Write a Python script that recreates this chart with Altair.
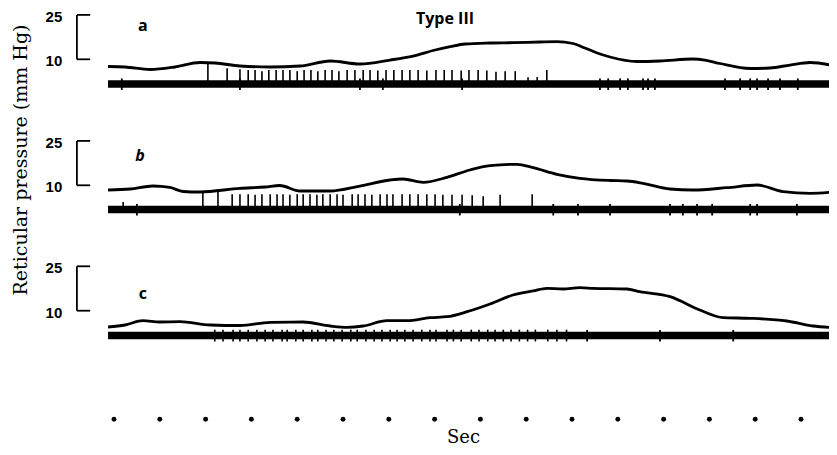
import altair as alt
import pandas as pd

# ---------------- data: time in seconds, pressure in mm Hg ----------------
# panel a : reticular pressure trace
A_T = [-0.13, 0.24, 0.79, 1.33, 1.88, 2.21, 2.75, 3.41, 4.06, 4.72, 5.37, 6.03, 6.53, 7.01,
       7.34, 7.66, 8.21, 8.71, 9.30, 9.67, 10.02, 10.28, 10.55, 10.83, 11.42, 11.92, 12.64,
       12.90, 13.23, 13.89, 14.32, 14.76, 15.20, 15.79]
A_P = [7.57, 7.40, 6.55, 7.40, 8.92, 8.75, 7.74, 7.40, 7.74, 9.43, 8.41, 9.76, 11.11, 13.14,
       14.26, 15.17, 15.51, 15.61, 15.84, 15.95, 15.34, 13.82, 12.13, 10.78, 9.26, 9.43, 10.10,
       9.76, 8.58, 6.89, 7.06, 8.07, 8.92, 7.57]
A_SPIKE_T = [2.05, 2.47, 2.75, 2.93, 3.08, 3.23, 3.38, 3.54, 3.69, 3.84, 4.00, 4.15, 4.30, 4.45,
             4.61, 4.76, 4.91, 5.09, 5.26, 5.44, 5.59, 5.76, 5.94, 6.11, 6.29, 6.46, 6.64, 6.83,
             7.03, 7.21, 7.38, 7.58, 7.75, 7.95, 8.14, 8.34, 8.54, 8.76, 9.04, 9.24, 9.45]
A_SPIKE_TOP = [8.5, 7.0, 6.6, 6.4, 6.4, 6.0, 6.4, 6.4, 6.4, 6.4, 6.0, 6.4, 6.4, 6.0,
               6.4, 6.4, 6.0, 6.4, 6.4, 6.4, 6.4, 6.2, 6.4, 6.4, 6.4, 6.4, 6.4, 6.2,
               6.4, 6.4, 6.4, 6.2, 6.4, 6.4, 6.2, 5.8, 6.0, 6.0, 3.9, 4.0, 6.4]
A_BLIP_T = [0.17, 2.75, 5.37, 5.87, 7.60, 10.61, 10.79, 11.05, 11.22, 11.55, 11.66, 11.81,
            13.34, 13.67, 13.89, 14.04, 14.28, 14.54, 14.93]

# panel b
B_T = [-0.13, 0.35, 0.85, 1.22, 1.51, 1.88, 2.75, 3.30, 3.62, 4.06, 4.72, 5.37, 6.03, 6.31,
       6.75, 7.27, 7.77, 8.21, 8.80, 9.15, 9.67, 10.17, 10.83, 11.20, 11.55, 12.14, 12.64,
       13.38, 14.04, 14.61, 15.20, 15.79]
B_P = [8.41, 8.75, 9.76, 9.26, 7.91, 7.74, 8.99, 9.43, 9.93, 8.07, 8.07, 9.76, 11.79, 12.13,
       11.01, 12.70, 15.17, 16.62, 17.09, 15.95, 13.72, 12.36, 11.62, 11.45, 10.68, 8.75, 8.41,
       9.19, 10.10, 7.84, 7.30, 7.84]
B_SPIKE_T = [0.20, 1.94, 2.27, 2.58, 2.75, 2.93, 3.08, 3.23, 3.41, 3.56, 3.69, 3.84, 4.00, 4.13,
             4.28, 4.43, 4.56, 4.72, 4.87, 5.00, 5.20, 5.33, 5.48, 5.63, 5.81, 5.96, 6.09, 6.29,
             6.46, 6.64, 6.83, 7.01, 7.18, 7.38, 7.60, 7.82, 8.06, 8.43, 9.13]
B_SPIKE_TOP = [4.4, 7.8, 7.8, 7.0, 7.0, 7.0, 6.8, 7.0, 7.0, 7.0, 7.0, 6.8, 7.0, 7.0,
               7.0, 6.8, 7.0, 7.0, 7.0, 6.8, 7.0, 7.0, 7.0, 6.8, 7.0, 7.0, 7.0, 7.0,
               7.0, 7.0, 7.0, 7.0, 6.8, 6.8, 6.8, 6.6, 6.3, 6.8, 7.0]
B_BLIP_T = [0.50, 7.55, 9.59, 10.13, 10.83, 12.14, 12.42, 12.73, 13.06, 13.89, 14.04, 14.91]

# panel c
C_T = [-0.13, 0.24, 0.63, 1.00, 1.44, 2.10, 2.75, 3.41, 4.13, 4.72, 5.09, 5.44, 5.96, 6.40,
       6.90, 7.27, 7.71, 8.21, 8.71, 9.15, 9.45, 9.80, 10.17, 10.46, 11.20, 11.48, 12.14,
       12.79, 13.30, 13.89, 14.69, 15.26, 15.79]
C_P = [4.49, 5.17, 6.62, 6.18, 6.28, 5.17, 5.00, 6.08, 6.18, 4.83, 4.39, 4.83, 6.62, 6.62,
       7.64, 7.97, 9.66, 12.26, 15.30, 16.66, 17.57, 17.33, 17.77, 17.57, 17.33, 16.42, 14.73,
       10.24, 7.64, 7.43, 6.52, 4.83, 4.26]
C_SPIKE_T = [2.20, 2.38, 2.60, 2.75, 2.93, 3.12, 3.30, 3.47, 3.67, 3.78, 3.97, 4.13, 4.32, 4.45,
             4.63, 4.80, 4.98, 5.17, 5.31, 5.50, 5.68, 5.85, 6.03, 6.18, 6.35, 6.53, 6.72, 6.90,
             7.03, 7.27, 7.41, 7.58, 7.80, 7.97, 8.16, 8.32, 8.50, 8.67, 8.85, 9.03, 9.20, 9.47,
             9.67, 9.88]
C_BLIP_T = [10.33, 11.92, 13.52]

BASELINE = {"a": 1.65, "b": 1.8, "c": 1.6}
TIMER_S = [0, 1, 2, 3, 4, 5, 6, 7, 8, 9, 10, 11, 12, 13, 14, 15]
SCALE_MMHG = [10, 25]

# ---------------- layout ----------------
W, H = 821, 439
K = 2.96                      # pixels per mm Hg
XS = alt.Scale(domain=[-2.3144, 15.611], nice=False, zero=False)
BRACKET_X, SERIF_X, NUM_X = -0.81, -0.52, -1.13
SANS = "Open Sans"
NUMFONT = "Liberation Sans"
SERIF = "DejaVu Serif"


def ydomain(px_of_10):
    top = 10 + px_of_10 / K
    return [top - H / K, top]


def panel(t, p, spike_t, spike_top, spike_bottom, blip_t, base, letter, letter_t, letter_p,
          italic, px10):
    ys = alt.Scale(domain=ydomain(px10), nice=False, zero=False)
    X = lambda f="t": alt.X(f"{f}:Q", scale=XS, axis=None)
    Y = lambda f="p": alt.Y(f"{f}:Q", scale=ys, axis=None)

    trace = alt.Chart(pd.DataFrame({"t": t, "p": p})).mark_line(
        color="black", strokeWidth=2.8, interpolate="monotone", clip=True
    ).encode(x=X(), y=Y())

    band = alt.Chart(pd.DataFrame({"t": [t[0], t[-1]], "p": [base, base]})).mark_line(
        color="black", strokeWidth=7.5, clip=True
    ).encode(x=X(), y=Y())

    sp = pd.DataFrame({"t": spike_t, "top": spike_top,
                       "bot": [spike_bottom] * len(spike_t)})
    spikes = alt.Chart(sp).mark_rule(color="black", strokeWidth=1.6).encode(
        x=X(), y=Y("bot"), y2="top:Q")

    bl = pd.DataFrame({"t": blip_t, "lo": [base - 2.0] * len(blip_t),
                       "hi": [base + 1.9] * len(blip_t)})
    blips = alt.Chart(bl).mark_rule(color="black", strokeWidth=1.8).encode(
        x=X(), y=Y("lo"), y2="hi:Q")

    br = pd.DataFrame({"x": [BRACKET_X], "lo": [SCALE_MMHG[0]], "hi": [SCALE_MMHG[1]]})
    bracket_v = alt.Chart(br).mark_rule(color="black", strokeWidth=1.8).encode(
        x=X("x"), y=Y("lo"), y2="hi:Q")
    sr = pd.DataFrame({"x": [BRACKET_X] * 2, "x2": [SERIF_X] * 2, "p": SCALE_MMHG})
    serifs = alt.Chart(sr).mark_rule(color="black", strokeWidth=1.8).encode(
        x=X("x"), x2="x2:Q", y=Y())

    nums = alt.Chart(pd.DataFrame({"t": [NUM_X] * 2, "p": SCALE_MMHG,
                                   "s": [str(v) for v in SCALE_MMHG]})).mark_text(
        font=NUMFONT, fontWeight="bold", fontSize=15, align="right", baseline="middle", dy=2,
        color="black").encode(x=X(), y=Y(), text="s:N")

    lab = alt.Chart(pd.DataFrame({"t": [letter_t], "p": [letter_p], "s": [letter]})).mark_text(
        font=SANS, fontWeight="bold", fontSize=16, align="center", baseline="middle",
        fontStyle="italic" if italic else "normal", color="black").encode(
        x=X(), y=Y(), text="s:N")

    return alt.layer(band, spikes, blips, trace, bracket_v, serifs, nums, lab)


pa = panel(A_T, A_P, A_SPIKE_T, A_SPIKE_TOP, BASELINE["a"], A_BLIP_T, BASELINE["a"],
           "a", 0.63, 21.4, False, 51.3)
pb = panel(B_T, B_P, B_SPIKE_T, B_SPIKE_TOP, BASELINE["b"], B_BLIP_T, BASELINE["b"],
           "b", 0.57, 19.9, True, 177.3)
pc = panel(C_T, C_P, C_SPIKE_T, [3.6] * len(C_SPIKE_T), -0.4, C_BLIP_T, BASELINE["c"],
           "c", 0.63, 15.5, False, 302.7)

dots = alt.Chart(pd.DataFrame({"t": TIMER_S})).mark_circle(
    color="black", size=24, opacity=1).encode(
    x=alt.X("t:Q", scale=XS, axis=None), y=alt.value(411.3))

type_lbl = alt.Chart(pd.DataFrame({"s": ["Type III"]})).mark_text(
    font=SANS, fontWeight="bold", fontSize=16, align="center", baseline="alphabetic",
    color="black").encode(x=alt.value(437), y=alt.value(16), text="s:N")
sec_lbl = alt.Chart(pd.DataFrame({"s": ["Sec"]})).mark_text(
    font=SERIF, fontSize=18, align="center", baseline="alphabetic",
    color="black").encode(x=alt.value(455.5), y=alt.value(435), text="s:N")
ytitle = alt.Chart(pd.DataFrame({"s": ["Reticular pressure (mm Hg)"]})).mark_text(
    font=SERIF, fontSize=19, align="center", baseline="middle", angle=270,
    color="black").encode(x=alt.value(13), y=alt.value(152), text="s:N")

chart = alt.layer(pa, pb, pc, dots, type_lbl, sec_lbl, ytitle).resolve_scale(
    y="independent"
).properties(
    width=W, height=H, autosize=alt.AutoSizeParams(type="none"), padding=0,
    background="white"
).configure_view(strokeWidth=0)

chart.save("out.html", embed_options={"renderer": "svg", "actions": False})
